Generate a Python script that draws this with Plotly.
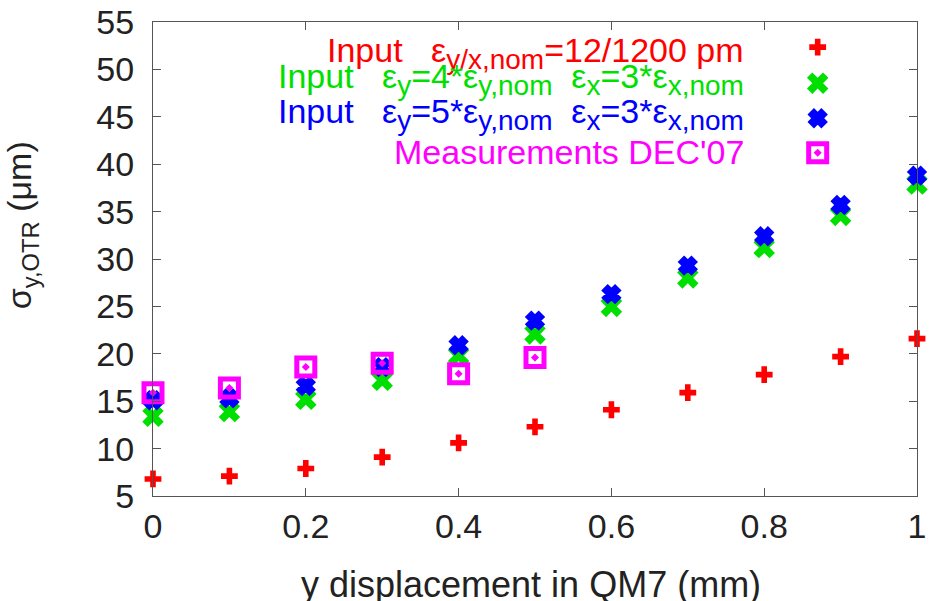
import plotly.graph_objects as go

# ---- data ----
x_sim = [0.0, 0.1, 0.2, 0.3, 0.4, 0.5, 0.6, 0.7, 0.8, 0.9, 1.0]
sigma_nominal = [6.8, 7.1, 7.9, 9.1, 10.6, 12.3, 14.1, 15.9, 17.8, 19.7, 21.6]
sigma_4x3 = [13.4, 13.9, 15.2, 17.2, 19.8, 22.1, 25.0, 28.0, 31.2, 34.6, 37.9]
sigma_5x3 = [15.1, 15.3, 16.6, 18.6, 20.9, 23.5, 26.3, 29.3, 32.4, 35.7, 38.8]
x_meas = [0.0, 0.1, 0.2, 0.3, 0.4, 0.5]
sigma_meas = [15.9, 16.4, 18.6, 19.0, 17.9, 19.6]


def sub(t):
    return "<sub><span style='font-size:28px'>" + t + "</span></sub>"


SP3 = "\u00a0\u00a0\u00a0"
SP2 = "\u00a0\u00a0"
legend_labels = [
    "Input" + SP3 + "ε" + sub("y/x,nom") + "=12/1200 pm",
    "Input" + SP3 + "ε" + sub("y") + "=4*ε" + sub("y,nom") + SP2 + "ε" + sub("x") + "=3*ε" + sub("x,nom"),
    "Input" + SP3 + "ε" + sub("y") + "=5*ε" + sub("y,nom") + SP2 + "ε" + sub("x") + "=3*ε" + sub("x,nom"),
    "Measurements DEC'07",
]
x_ticks = [0, 0.2, 0.4, 0.6, 0.8, 1]
y_ticks = [5, 10, 15, 20, 25, 30, 35, 40, 45, 50, 55]

FONT = "Liberation Sans, Arial, Helvetica, sans-serif"
RED, GREEN, BLUE, MAG = "#ff0000", "#00e000", "#0000ff", "#ff00ff"

styles = [
    dict(symbol="cross", size=14, color=RED, line=dict(width=0)),
    dict(symbol="x", size=19, color=GREEN, line=dict(width=0)),
    dict(symbol="x", size=13, color=BLUE, line=dict(width=4, color=BLUE)),
    dict(symbol="square-open-dot", size=18, color=MAG, line=dict(width=5, color=MAG)),
]
colors = [RED, GREEN, BLUE, MAG]

fig = go.Figure()
series = [(x_sim, sigma_nominal), (x_sim, sigma_4x3), (x_sim, sigma_5x3), (x_meas, sigma_meas)]
for (xs, ys), st in zip(series, styles):
    fig.add_trace(go.Scatter(x=xs, y=ys, mode="markers", marker=st,
                             cliponaxis=False, showlegend=False, hoverinfo="skip"))

# manual key (text right-aligned, symbol on the right, gnuplot style)
key_y = [0.947, 0.871, 0.797, 0.724]
text_y = [0.935, 0.880, 0.806, 0.726]
for i, (lab, st, c) in enumerate(zip(legend_labels, styles, colors)):
    fig.add_trace(go.Scatter(x=[0.870], y=[key_y[i]], xaxis="x2", yaxis="y2",
                             mode="markers", marker=st, cliponaxis=False,
                             showlegend=False, hoverinfo="skip"))
    fig.add_annotation(xref="paper", yref="paper", x=0.776, y=text_y[i],
                       xanchor="right", yanchor="middle", text=lab, showarrow=False,
                       font=dict(family=FONT, size=34, color=c))

fig.add_annotation(xref="paper", yref="paper", x=-0.171, y=0.572, textangle=-90,
                   text="σ<sub>y,OTR</sub> (μm)", showarrow=False,
                   xanchor="center", yanchor="middle",
                   font=dict(family=FONT, size=34, color="#222"))
fig.add_annotation(xref="paper", yref="paper", x=0.495, y=-0.186,
                   text="y displacement in QM7 (mm)", showarrow=False,
                   xanchor="center", yanchor="middle",
                   font=dict(family=FONT, size=36, color="#222"))

axis_common = dict(showline=True, linecolor="#555", linewidth=1, mirror="ticks",
                   ticks="inside", ticklen=8, tickcolor="#555", showgrid=False,
                   zeroline=False, automargin=False,
                   tickfont=dict(family=FONT, size=34, color="#222"))
fig.update_layout(
    template="none",
    width=929, height=601,
    margin=dict(l=153, r=12, t=22, b=105),
    paper_bgcolor="white", plot_bgcolor="white",
    xaxis=dict(range=[0, 1], tickvals=x_ticks, ticktext=[str(v) for v in x_ticks], **axis_common),
    yaxis=dict(range=[5, 55], tickvals=y_ticks, ticklabelstandoff=11, **axis_common),
    xaxis2=dict(range=[0, 1], overlaying="x", visible=False),
    yaxis2=dict(range=[0, 1], overlaying="y", visible=False),
    showlegend=False,
)
fig.write_html("out.html", config={"displayModeBar": False},
               post_script="document.body.style.margin='0px';document.body.style.overflow='hidden';")
